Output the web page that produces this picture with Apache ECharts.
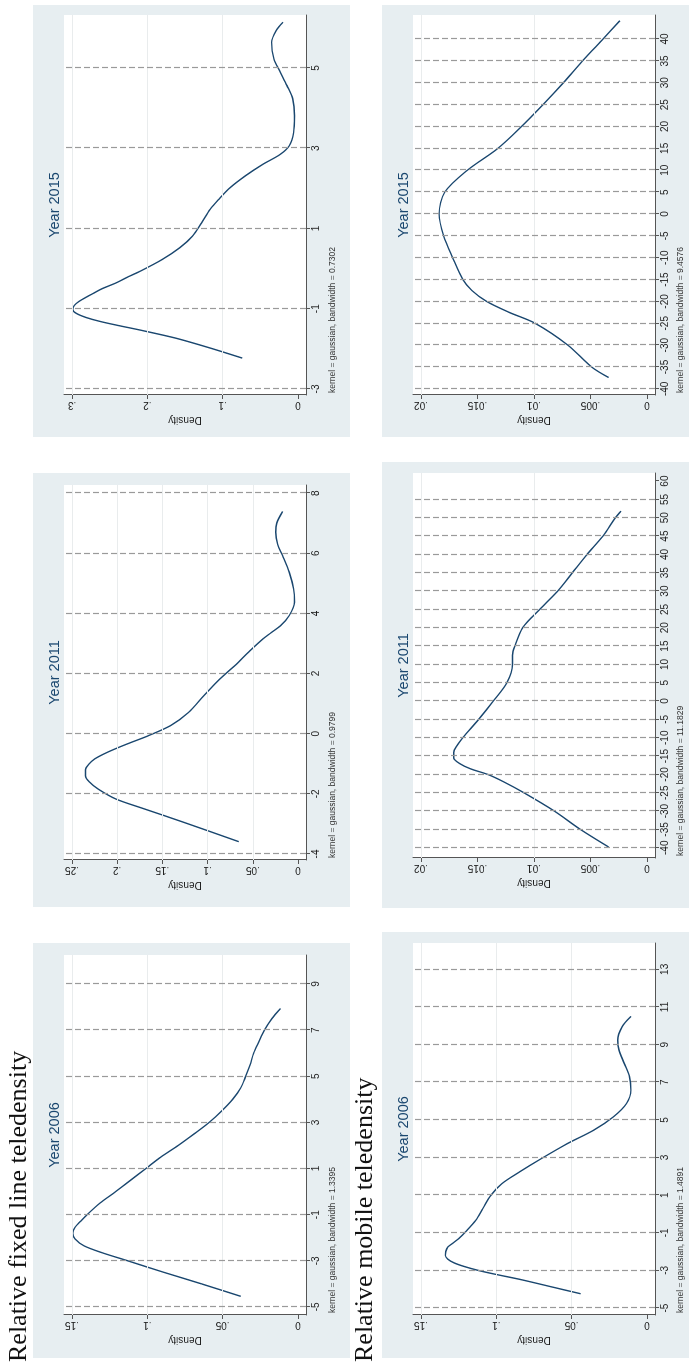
<!DOCTYPE html>
<html>
<head>
<meta charset="utf-8">
<title>Relative teledensity kernel densities</title>
<script src="https://cdn.jsdelivr.net/npm/echarts@6/dist/echarts.min.js"></script>
<style>
  html, body { margin: 0; padding: 0; background: #fff; overflow: hidden; }
  /* the figure is drawn upright (1370 x 689) and turned a quarter turn to the left */
  #wrap {
    position: absolute; left: 0; top: 0;
    width: 1370px; height: 689px;
    transform-origin: 0 0;
    transform: translate(0px, 1370px) rotate(-90deg);
  }
  #chart { width: 1370px; height: 689px; }
</style>
</head>
<body>
<div id="wrap"><div id="chart"></div></div>
<script>
// ---- data ----
// fixed line teledensity
const fix06X = [-4.54, -4.0, -3.5, -3.0, -2.65, -2.35, -2.05, -1.8, -1.55, -1.3, -1.0, -0.5, 0, 0.5, 1, 1.5, 2, 2.5, 3, 3.5, 4, 4.5, 5, 5.5, 6, 6.5, 7, 7.5, 7.94];
const fix06D = [0.038, 0.064, 0.089, 0.113, 0.130, 0.142, 0.148, 0.1495, 0.148, 0.1445, 0.140, 0.1315, 0.121, 0.111, 0.101, 0.091, 0.0795, 0.069, 0.059, 0.0506, 0.0434, 0.038, 0.0347, 0.0318, 0.0295, 0.026, 0.0223, 0.0173, 0.0116];

const fix11X = [-3.59, -2.95, -2.5, -2.17, -1.84, -1.6, -1.4, -1.2, -1.0, -0.84, -0.62, -0.34, -0.06, 0.27, 0.71, 1.27, 1.65, 1.93, 2.26, 2.76, 3.21, 3.59, 3.93, 4.37, 4.81, 5.37, 5.92, 6.3, 6.7, 7.0, 7.39];
const fix11D = [0.0655, 0.126, 0.17, 0.2015, 0.221, 0.231, 0.235, 0.235, 0.231, 0.225, 0.211, 0.189, 0.165, 0.141, 0.121, 0.104, 0.092, 0.0825, 0.070, 0.053, 0.0364, 0.0194, 0.0097, 0.0039, 0.0049, 0.0097, 0.017, 0.0225, 0.0246, 0.0235, 0.017];

const fix15X = [-2.23, -1.98, -1.73, -1.53, -1.42, -1.32, -1.22, -1.12, -1.02, -0.92, -0.82, -0.7, -0.61, -0.5, -0.36, -0.2, -0.07, 0.23, 0.52, 0.81, 1.14, 1.48, 1.73, 2.02, 2.31, 2.6, 2.85, 3.06, 3.39, 3.81, 4.23, 4.56, 4.89, 5.23, 5.64, 5.93, 6.14];
const fix15D = [0.074, 0.1165, 0.163, 0.21, 0.238, 0.262, 0.281, 0.294, 0.299, 0.297, 0.291, 0.28, 0.271, 0.26, 0.242, 0.225, 0.21, 0.18, 0.157, 0.14, 0.128, 0.1165, 0.105, 0.090, 0.070, 0.0466, 0.0233, 0.0116, 0.0058, 0.0047, 0.007, 0.0146, 0.0233, 0.032, 0.035, 0.029, 0.020];

// mobile teledensity
const mob06X = [-4.24, -3.9, -3.5, -3.2, -3.0, -2.8, -2.6, -2.4, -2.2, -2.0, -1.76, -1.5, -1.31, -0.87, -0.34, 0.28, 0.99, 1.61, 2.23, 2.94, 3.74, 4.45, 5.16, 5.87, 6.58, 7.29, 8.0, 8.71, 9.24, 9.95, 10.5];
const mob06D = [0.0441, 0.062, 0.083, 0.101, 0.112, 0.121, 0.128, 0.1322, 0.1338, 0.1336, 0.1322, 0.128, 0.125, 0.1195, 0.1137, 0.109, 0.1036, 0.0963, 0.0847, 0.0702, 0.0528, 0.0354, 0.0223, 0.0136, 0.0107, 0.0116, 0.0151, 0.0186, 0.0194, 0.0165, 0.0107];

const mob11X = [-39.8, -35, -30, -25, -22, -20, -18.5, -17, -15.5, -14, -12.5, -10, -5, 0, 5, 10, 12.5, 15, 20, 25, 30, 35, 40, 45, 50, 51.8];
const mob11D = [0.0034, 0.0059, 0.0082, 0.0109, 0.0127, 0.0141, 0.0156, 0.0166, 0.0171, 0.0171, 0.0169, 0.0163, 0.0149, 0.0136, 0.0124, 0.0119, 0.0119, 0.0117, 0.011, 0.0095, 0.0079, 0.0066, 0.0053, 0.0039, 0.0028, 0.0023];

const mob15X = [-37.4, -35, -30, -25, -22.5, -20, -17.5, -15, -10, -5, 0, 5, 10, 15, 20, 25, 30, 35, 40, 44.2];
const mob15D = [0.0034, 0.0049, 0.0070, 0.0099, 0.0122, 0.0142, 0.0155, 0.0163, 0.0172, 0.018, 0.0184, 0.0179, 0.0159, 0.0132, 0.0111, 0.0092, 0.0074, 0.0057, 0.0039, 0.0024];

// x-axis ticks (dashed reference lines sit on them)
const fix06Ticks = [-5, -3, -1, 1, 3, 5, 7, 9];
const fix11Ticks = [-4, -2, 0, 2, 4, 6, 8];
const fix15Ticks = [-3, -1, 1, 3, 5];
const mob06Ticks = [-5, -3, -1, 1, 3, 5, 7, 9, 11, 13];
const mob11Ticks = [-40, -35, -30, -25, -20, -15, -10, -5, 0, 5, 10, 15, 20, 25, 30, 35, 40, 45, 50, 55, 60];
const mob11Lines = [-40, -35, -30, -25, -20, -15, -10, -5, 0, 5, 10, 15, 20, 25, 30, 35, 40, 45, 50, 55];
const mob15Ticks = [-40, -35, -30, -25, -20, -15, -10, -5, 0, 5, 10, 15, 20, 25, 30, 35, 40];

// density ticks
const fix06DensityTicks = [0, 0.05, 0.1, 0.15];
const fix11DensityTicks = [0, 0.05, 0.1, 0.15, 0.2, 0.25];
const fix15DensityTicks = [0, 0.1, 0.2, 0.3];
const mob06DensityTicks = [0, 0.05, 0.1, 0.15];
const mob11DensityTicks = [0, 0.005, 0.01, 0.015, 0.02];
const mob15DensityTicks = [0, 0.005, 0.01, 0.015, 0.02];

const years = ['Year 2006', 'Year 2011', 'Year 2015'];
const bandwidths = ['1.3395', '0.9799', '0.7302', '1.4891', '11.1829', '9.4576'];
const rowTitles = ['Relative fixed line teledensity', 'Relative mobile teledensity'];

// ---- layout (upright frame) ----
const panels = [
  { x: fix06X, d: fix06D, ticks: fix06Ticks, lines: fix06Ticks, dTicks: fix06DensityTicks, row: 0, col: 0, left: 55, width: 360, xMin: -5.35, xMax: 10.26, bg: [12, 427] },
  { x: fix11X, d: fix11D, ticks: fix11Ticks, lines: fix11Ticks, dTicks: fix11DensityTicks, row: 0, col: 1, left: 510, width: 375, xMin: -4.2, xMax: 8.27, bg: [463, 897] },
  { x: fix15X, d: fix15D, ticks: fix15Ticks, lines: fix15Ticks, dTicks: fix15DensityTicks, row: 0, col: 2, left: 975, width: 380, xMin: -3.15, xMax: 6.32, bg: [933, 1365] },
  { x: mob06X, d: mob06D, ticks: mob06Ticks, lines: mob06Ticks, dTicks: mob06DensityTicks, row: 1, col: 0, left: 55, width: 372, xMin: -5.37, xMax: 14.4, bg: [12, 438] },
  { x: mob11X, d: mob11D, ticks: mob11Ticks, lines: mob11Lines, dTicks: mob11DensityTicks, row: 1, col: 1, left: 512, width: 385, xMin: -42.8, xMax: 62.2, bg: [462, 908] },
  { x: mob15X, d: mob15D, ticks: mob15Ticks, lines: mob15Ticks, dTicks: mob15DensityTicks, row: 1, col: 2, left: 975, width: 380, xMin: -41.4, xMax: 45.5, bg: [933, 1365] }
];
const rowTop = [64, 413];       // top of white plot region
const plotH = 242;
const pad = 8;                  // Stata plot-region margin, px
const bgTop = [33, 382];
const bgBottom = [350, 700];

const NAVY = '#1a476f';
const AXIS = '#555';
const TXT = '#222';

// Stata style numbers: .05 instead of 0.05
function stata(v) {
  if (v === 0) return '0';
  const s = String(Math.round(v * 100000) / 100000);
  return s.replace(/^(-?)0\./, '$1.');
}

const chart = echarts.init(document.getElementById('chart'));

const grids = [], xAxes = [], yAxes = [], series = [], graphics = [];

panels.forEach((p, i) => {
  const dMax = p.dTicks[p.dTicks.length - 1];
  const span = plotH - 2 * pad;
  const top = rowTop[p.row];

  grids.push({
    left: p.left, top: top, width: p.width, height: plotH,
    show: true, backgroundColor: '#fff', borderWidth: 0
  });

  xAxes.push({
    gridIndex: i, type: 'value', min: p.xMin, max: p.xMax,
    axisLine: { show: true, onZero: false, lineStyle: { color: AXIS, width: 1 } },
    axisTick: { show: true, length: 4, customValues: p.ticks, lineStyle: { color: AXIS } },
    axisLabel: { customValues: p.ticks, formatter: stata, fontFamily: 'Liberation Sans, Arial', fontSize: 10, color: TXT, margin: 5 },
    splitLine: { show: false }
  });

  yAxes.push({
    gridIndex: i, type: 'value',
    min: -dMax * pad / span, max: dMax * (span + pad) / span,
    name: 'Density', nameLocation: 'middle', nameRotate: 90, nameGap: 20,
    nameTextStyle: { fontFamily: 'Liberation Sans, Arial', fontSize: 10, color: TXT },
    axisLine: { show: true, onZero: false, lineStyle: { color: AXIS, width: 1 } },
    axisTick: { show: true, length: 4, customValues: p.dTicks, lineStyle: { color: AXIS } },
    axisLabel: { customValues: p.dTicks, rotate: 90, formatter: stata, fontFamily: 'Liberation Sans, Arial', fontSize: 10, color: TXT, margin: 5 },
    splitLine: { show: false }
  });

  const refLines = p.lines.map(v => ({ xAxis: v, lineStyle: { type: [6, 3], color: '#9a9a9a', width: 1.2 } }));
  const gridLines = p.dTicks.filter(v => v > 0).map(v => ({ yAxis: v, lineStyle: { type: 'solid', color: '#e9eced', width: 1 } }));

  series.push({
    type: 'line', xAxisIndex: i, yAxisIndex: i,
    data: p.x.map((v, k) => [v, p.d[k]]),
    smooth: 0.3, showSymbol: false, symbol: 'none',
    lineStyle: { color: NAVY, width: 1.4 },
    animation: false,
    markLine: {
      silent: true, symbol: 'none', animation: false,
      label: { show: false },
      data: gridLines.concat(refLines)
    }
  });

  // panel background
  graphics.push({
    type: 'rect', silent: true, z: -10,
    shape: { x: p.bg[0], y: bgTop[p.row], width: p.bg[1] - p.bg[0], height: bgBottom[p.row] - bgTop[p.row] },
    style: { fill: '#e7eef1' }
  });
  // panel title
  graphics.push({
    type: 'text', silent: true, z: 10,
    x: p.left + p.width / 2, y: p.row === 0 ? 55 : 404,
    style: { text: years[p.col], font: '14.5px "Liberation Sans", Arial', fill: NAVY, align: 'center', verticalAlign: 'middle', textAlign: 'center', textVerticalAlign: 'middle' }
  });
  // kernel note
  graphics.push({
    type: 'text', silent: true, z: 10,
    x: p.left + 2, y: p.row === 0 ? 333 : 681,
    style: { text: 'kernel = gaussian, bandwidth = ' + bandwidths[i], font: '8.5px "Liberation Sans", Arial', fill: '#333', align: 'left', verticalAlign: 'middle', textAlign: 'left', textVerticalAlign: 'middle' }
  });
});

// row headings
[32, 378].forEach((base, r) => {
  graphics.push({
    type: 'text', silent: true, z: 20,
    x: 8, y: base,
    style: { text: rowTitles[r], font: '26px "Liberation Serif", "Times New Roman", serif', fill: '#111', align: 'left', verticalAlign: 'bottom', textAlign: 'left', textVerticalAlign: 'bottom' }
  });
});

chart.setOption({
  animation: false,
  backgroundColor: '#fff',
  grid: grids,
  xAxis: xAxes,
  yAxis: yAxes,
  series: series,
  graphic: { elements: graphics }
});
</script>
</body>
</html>
